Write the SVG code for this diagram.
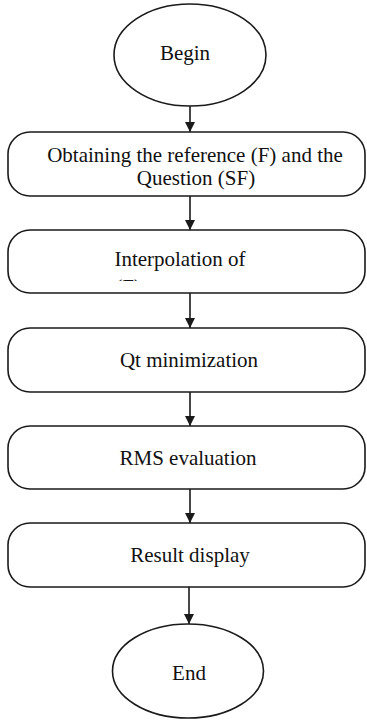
<svg xmlns="http://www.w3.org/2000/svg" width="367" height="720" viewBox="0 0 367 720">
<style>
.shape{fill:#fff;stroke:#1a1a1a;stroke-width:1.6}
.lbl{font-family:"Liberation Serif","Times New Roman",serif;font-size:21px;fill:#111;text-anchor:middle}
.conn{stroke:#1a1a1a;stroke-width:1.6;fill:none}
</style>
<defs>
<marker id="ah" viewBox="0 0 10 10" refX="10" refY="5" markerWidth="10" markerHeight="10" markerUnits="userSpaceOnUse" orient="auto">
<path d="M0,0 L10,5 L0,10 z" fill="#1a1a1a"/>
</marker>
<clipPath id="clipInterp"><rect x="8" y="230" width="357" height="51"/></clipPath>
</defs>
<rect width="367" height="720" fill="#fff"/>
<g id="connectors">
<line class="conn" x1="190" y1="106" x2="190" y2="132" marker-end="url(#ah)"/>
<line class="conn" x1="190" y1="196" x2="190" y2="230" marker-end="url(#ah)"/>
<line class="conn" x1="190" y1="293" x2="190" y2="328" marker-end="url(#ah)"/>
<line class="conn" x1="190" y1="392" x2="190" y2="426" marker-end="url(#ah)"/>
<line class="conn" x1="190" y1="489" x2="190" y2="523" marker-end="url(#ah)"/>
<line class="conn" x1="189" y1="587" x2="189" y2="624" marker-end="url(#ah)"/>
</g>
<g id="begin">
<ellipse class="shape" cx="190" cy="55" rx="76" ry="51"/>
<text class="lbl" x="185" y="60">Begin</text>
</g>
<g id="obtain">
<rect class="shape" x="8" y="132" width="357" height="64" rx="22" ry="22"/>
<text class="lbl" x="195" y="162">Obtaining the reference (F) and the</text>
<text class="lbl" x="196" y="185">Question (SF)</text>
</g>
<g id="interp">
<rect class="shape" x="8" y="230" width="357" height="63" rx="22" ry="22"/>
<text class="lbl" x="180" y="266">Interpolation of</text>
<text class="lbl" x="128" y="294" clip-path="url(#clipInterp)">(F)</text>
</g>
<g id="qt">
<rect class="shape" x="8" y="328" width="357" height="64" rx="22" ry="22"/>
<text class="lbl" x="189" y="367">Qt minimization</text>
</g>
<g id="rms">
<rect class="shape" x="8" y="426" width="357" height="63" rx="22" ry="22"/>
<text class="lbl" x="188" y="465">RMS evaluation</text>
</g>
<g id="result">
<rect class="shape" x="8" y="523" width="357" height="64" rx="22" ry="22"/>
<text class="lbl" x="190" y="562">Result display</text>
</g>
<g id="end">
<ellipse class="shape" cx="188" cy="671" rx="75.5" ry="47"/>
<text class="lbl" x="189" y="680">End</text>
</g>
</svg>
